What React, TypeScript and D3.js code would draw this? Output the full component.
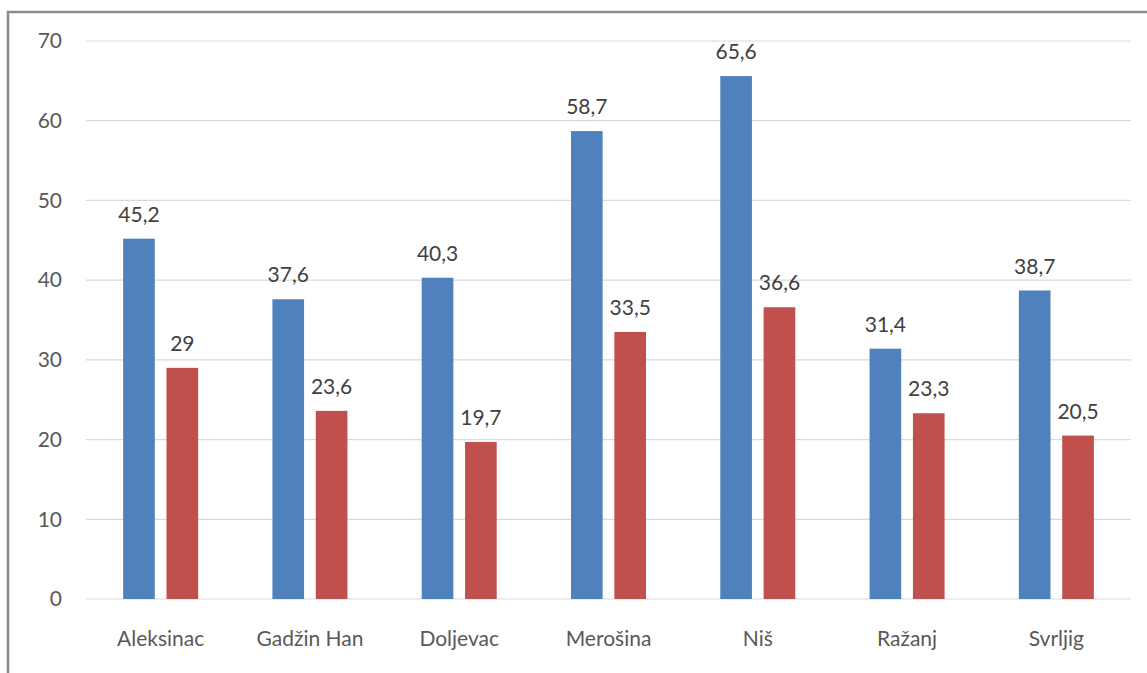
import React from "react";
import * as d3 from "d3";

const categories = ["Aleksinac", "Gadžin Han", "Doljevac", "Merošina", "Niš", "Ražanj", "Svrljig"];
const seriesA = [45.2, 37.6, 40.3, 58.7, 65.6, 31.4, 38.7];
const seriesB = [29, 23.6, 19.7, 33.5, 36.6, 23.3, 20.5];
const yTicks = [0, 10, 20, 30, 40, 50, 60, 70];

const W = 1147;
const H = 673;
const plotLeft = 86;
const plotRight = 1131;
const plotTop = 41;
const plotBottom = 599;
const FONT = "Lato, 'Open Sans', sans-serif";
const FS = 21;

const fmt = (v: number) => String(v).replace(".", ",");

export default function App() {
  const x = d3.scaleBand<string>().domain(categories).range([plotLeft, plotRight]);
  const y = d3.scaleLinear().domain([0, 70]).range([plotBottom, plotTop]);
  const inner = d3.scaleBand<string>().domain(["a", "b"]).range([-37.5, 37.5]).paddingInner(0.27);
  const bw = inner.bandwidth();

  const series = [
    { key: "a", values: seriesA, color: "#4F81BD" },
    { key: "b", values: seriesB, color: "#C0504D" },
  ];

  return (
    <svg width={W} height={H} style={{ position: "absolute", left: 0, top: 0, background: "#fff" }}>
      <rect x={8} y={12} width={W + 20} height={H + 20} fill="#fff" stroke="#8a8a8a" strokeWidth={2.5} />
      {yTicks.map((t) => (
        <g key={t}>
          <line x1={plotLeft} x2={plotRight} y1={y(t)} y2={y(t)} stroke="#d9d9d9" strokeWidth={1.2} />
          <text x={62} y={y(t)} dy="0.35em" textAnchor="end" fontFamily={FONT} fontSize={FS} fill="#595959">
            {t}
          </text>
        </g>
      ))}
      {categories.map((c, i) => {
        const cx = (x(c) as number) + x.bandwidth() / 2;
        return (
          <g key={c}>
            {series.map((s) => {
              const bx = cx + (inner(s.key) as number);
              const v = s.values[i];
              return (
                <g key={s.key}>
                  <rect x={bx} y={y(v)} width={bw} height={plotBottom - y(v)} fill={s.color} />
                  <text
                    x={bx + bw / 2}
                    y={y(v) - 17}
                    textAnchor="middle"
                    fontFamily={FONT}
                    fontSize={FS}
                    fill="#404040"
                  >
                    {fmt(v)}
                  </text>
                </g>
              );
            })}
            <text x={cx} y={646} textAnchor="middle" fontFamily={FONT} fontSize={FS} fill="#595959">
              {c}
            </text>
          </g>
        );
      })}
    </svg>
  );
}
